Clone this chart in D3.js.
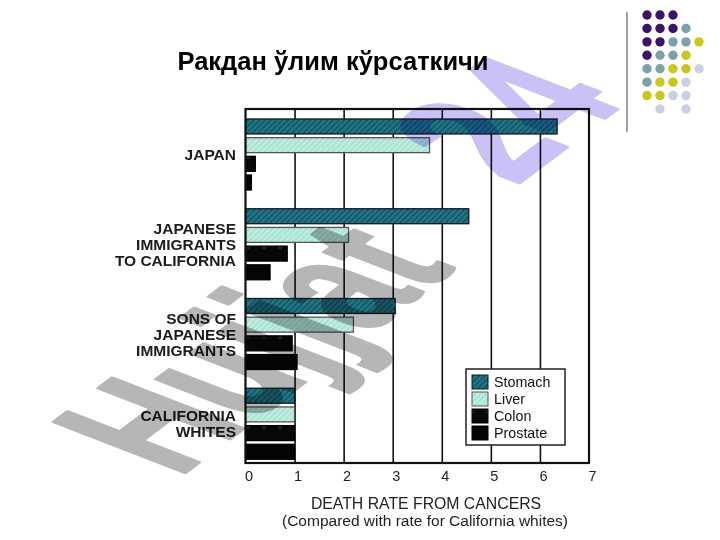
<!DOCTYPE html>
<html><head><meta charset="utf-8">
<script src="https://cdn.jsdelivr.net/npm/d3@7/dist/d3.min.js"></script>
<style>
html,body{margin:0;padding:0;background:#fff;}
svg{display:block;font-family:"Liberation Sans",Arial,Helvetica,sans-serif;}
</style></head>
<body>
<svg id="c" width="720" height="540"></svg>
<script>
// ---- data ----
const titleText = "Ракдан ўлим кўрсаткичи";
const categories = ["JAPAN", "JAPANESE IMMIGRANTS TO CALIFORNIA", "SONS OF JAPANESE IMMIGRANTS", "CALIFORNIA WHITES"];
const categoryLines = [["JAPAN"], ["JAPANESE", "IMMIGRANTS", "TO CALIFORNIA"], ["SONS OF", "JAPANESE", "IMMIGRANTS"], ["CALIFORNIA", "WHITES"]];
const series = ["Stomach", "Liver", "Colon", "Prostate"];
const stomach = [6.35, 4.55, 3.05, 1.0];
const liver = [3.75, 2.1, 2.2, 1.0];
const colon = [0.2, 0.85, 0.95, 1.0];
const prostate = [0.12, 0.5, 1.05, 1.0];
const xTicks = [0, 1, 2, 3, 4, 5, 6, 7];
const xTitle1 = "DEATH RATE FROM CANCERS";
const xTitle2 = "(Compared with rate for California whites)";
const watermarkGray = "Hujjat";
const watermarkPurple = "24";
// decorative dot grid (top right): colour code per row/column
const dotRows = ["PPP..", "PPPT.", "PPTTY", "PTTY.", "TTYYL", "TYYL.", "YYLL.", ".L.L."];

const valuesBySeries = {Stomach: stomach, Liver: liver, Colon: colon, Prostate: prostate};
const svg = d3.select("#c");
const defs = svg.append("defs");

// patterns
function hatch(id, base, line, w) {
  const p = defs.append("pattern").attr("id", id).attr("patternUnits", "userSpaceOnUse")
    .attr("width", 4).attr("height", 4).attr("patternTransform", "rotate(45)");
  p.append("rect").attr("width", 4).attr("height", 4).attr("fill", base);
  p.append("line").attr("x1", 0).attr("y1", 0).attr("x2", 0).attr("y2", 4).attr("stroke", line).attr("stroke-width", w);
}
hatch("pStomach", "#1f7584", "#0b3344", 1.4);
hatch("pLiver", "#ace4d6", "#e2f7f1", 1.4);
const pc = defs.append("pattern").attr("id", "pColon").attr("patternUnits", "userSpaceOnUse").attr("width", 16).attr("height", 15);
pc.append("rect").attr("width", 16).attr("height", 15).attr("fill", "#080808");
pc.append("circle").attr("cx", 8).attr("cy", 7).attr("r", 2.2).attr("fill", "#1d2735");

const fills = {Stomach: "url(#pStomach)", Liver: "url(#pLiver)", Colon: "url(#pColon)", Prostate: "#050505"};
const strokes = {Stomach: "#101820", Liver: "#555", Colon: "#000", Prostate: "#000"};

// scales
const x = d3.scaleLinear().domain([0, 7]).range([245.5, 589]);
const plotTop = 109, plotBottom = 463;
const yGroup = d3.scaleBand().domain(categories).range([119, 478]);
const ySub = d3.scaleBand().domain(series).range([0, 71]).paddingInner(0.2);

// title
svg.append("text").attr("x", 333).attr("y", 70).attr("text-anchor", "middle")
  .attr("font-size", 25.5).attr("font-weight", "bold").attr("fill", "#000").text(titleText);

// decoration: vertical line + dots
svg.append("line").attr("x1", 627).attr("x2", 627).attr("y1", 12).attr("y2", 132)
  .attr("stroke", "#a0a0a0").attr("stroke-width", 2);
const dotColor = {P: "#3b1468", T: "#7aa2a8", Y: "#c8c81c", L: "#c9d0e2"};
const dotX = d3.scaleLinear().domain([0, 4]).range([647, 699]);
const dotY = d3.scaleLinear().domain([0, 7]).range([15, 109]);
dotRows.forEach((row, r) => {
  row.split("").forEach((ch, c) => {
    if (dotColor[ch]) svg.append("circle").attr("cx", dotX(c)).attr("cy", dotY(r)).attr("r", 4.7).attr("fill", dotColor[ch]);
  });
});

// plot frame background
svg.append("rect").attr("x", x(0)).attr("y", plotTop).attr("width", x(7) - x(0)).attr("height", plotBottom - plotTop)
  .attr("fill", "#fff");

// gridlines via axis
const grid = svg.append("g").attr("transform", `translate(0,${plotBottom})`)
  .call(d3.axisBottom(x).tickValues(xTicks.slice(1, -1)).tickSize(-(plotBottom - plotTop)).tickFormat(""));
grid.select(".domain").remove();
grid.selectAll(".tick line").attr("stroke", "#111").attr("stroke-width", 1.6);

// bars
const g = svg.append("g");
categories.forEach((cat, i) => {
  series.forEach(s => {
    g.append("rect")
      .attr("x", x(0)).attr("y", yGroup(cat) + ySub(s))
      .attr("width", x(valuesBySeries[s][i]) - x(0)).attr("height", ySub.bandwidth())
      .attr("fill", fills[s]).attr("stroke", strokes[s]).attr("stroke-width", 1.3);
  });
});

// frame
svg.append("rect").attr("x", x(0)).attr("y", plotTop).attr("width", x(7) - x(0)).attr("height", plotBottom - plotTop)
  .attr("fill", "none").attr("stroke", "#111").attr("stroke-width", 2.2);

// x tick labels
const ax = svg.append("g").attr("transform", `translate(3,${plotBottom + 2})`)
  .call(d3.axisBottom(x).tickValues(xTicks).tickSize(0).tickPadding(6).tickFormat(d3.format("d")));
ax.select(".domain").remove();
ax.selectAll("text").attr("font-size", 14.5).attr("fill", "#222").attr("font-family", "Liberation Sans, Arial, sans-serif");

// axis titles
svg.append("text").attr("x", 426).attr("y", 509).attr("text-anchor", "middle").attr("font-size", 15.8).attr("fill", "#222").text(xTitle1);
svg.append("text").attr("x", 425).attr("y", 526).attr("text-anchor", "middle").attr("font-size", 15.5).attr("fill", "#222").text(xTitle2);

// category labels
categories.forEach((cat, i) => {
  const lines = categoryLines[i];
  const cy = yGroup(cat) + 35.5;
  const t = svg.append("text").attr("text-anchor", "end").attr("font-size", 15.5).attr("font-weight", "bold").attr("fill", "#1c1c1c");
  lines.forEach((ln, k) => {
    t.append("tspan").attr("x", 236).attr("y", cy + (k - (lines.length - 1) / 2) * 16 + 5.5).text(ln);
  });
});

// legend
const lg = svg.append("g");
lg.append("rect").attr("x", 466).attr("y", 369).attr("width", 99).attr("height", 76)
  .attr("fill", "#fff").attr("stroke", "#222").attr("stroke-width", 1.5);
series.forEach((s, k) => {
  lg.append("rect").attr("x", 472).attr("y", 375 + k * 17).attr("width", 16).attr("height", 14)
    .attr("fill", fills[s]).attr("stroke", strokes[s]).attr("stroke-width", 1);
  lg.append("text").attr("x", 494).attr("y", 387 + k * 17).attr("font-size", 14.3).attr("fill", "#111").text(s);
});

// watermark (skewed text, multiplied over the chart)
const wm = svg.append("g").style("mix-blend-mode", "multiply")
  .attr("transform", "matrix(0.49,-0.37,0.93,0.36,178,478)");
const wt = wm.append("text").attr("font-size", 205).attr("font-weight", "bold").attr("x", 0).attr("y", 0)
  .attr("stroke-width", 4).attr("stroke-linejoin", "round");
wt.append("tspan").attr("fill", "#b6b6b6").attr("stroke", "#b6b6b6").text(watermarkGray);
wt.append("tspan").attr("fill", "#cbc1f6").attr("stroke", "#cbc1f6").attr("dx", 186).attr("dy", -35).text(watermarkPurple);
</script>
</body></html>
